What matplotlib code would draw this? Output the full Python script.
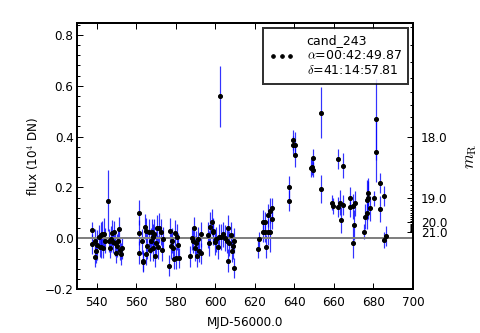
import matplotlib
matplotlib.use('Agg')
import matplotlib.pyplot as plt
from matplotlib.ticker import MultipleLocator, AutoMinorLocator, FixedLocator, FixedFormatter

plt.rcParams['mathtext.fontset'] = 'cm'
plt.rcParams['font.size'] = 12

# light curve of cand_243 (MJD-56000, flux in 1e4 DN)
mjd = [537.7, 537.6, 538.9, 539.3, 539.6, 540.3, 540.9, 541.4, 541.9, 542.3, 542.8, 543.2, 543.7, 544.2,
       545.5, 546.2, 546.7, 547.2, 547.8, 548.4, 548.9, 549.3, 549.6, 550.2, 550.7, 551.3, 551.9, 552.5, 552.8,
       561.4, 561.5, 561.4, 562.7, 563.2, 563.5, 564.4, 564.7, 565.0, 565.6, 566.2, 566.9, 567.2, 567.7,
       568.3, 568.6, 569.1, 569.4, 570.0, 570.6, 571.1, 571.6, 572.3, 572.8, 573.3,
       576.7, 577.0, 577.5, 578.2, 578.7, 579.2, 579.7, 580.0, 580.5, 581.2, 581.7,
       587.2, 588.0, 588.6, 589.2, 589.7, 590.2, 590.6, 591.2, 591.9, 592.6, 592.9,
       596.1, 596.6, 597.3, 598.1, 598.6, 598.8, 599.6, 600.5, 601.5, 601.9, 602.4, 603.0, 604.0, 605.0,
       606.0, 606.2, 606.4, 607.0, 607.9, 608.2, 608.7, 609.2, 609.6,
       621.4, 622.2, 623.9, 624.3, 625.1, 625.3, 625.5, 626.5, 626.8, 627.5, 627.7, 628.5, 628.5,
       637.5, 637.5, 639.2, 639.2, 640.3, 640.3, 648.3, 648.8, 649.3, 649.3, 653.3, 653.3,
       659.2, 659.7, 662.2, 662.2, 663.0, 663.4, 664.4, 664.8, 668.1, 668.3, 669.5, 669.8, 670.3, 670.7,
       675.4, 675.7, 676.6, 676.6, 677.4, 677.4, 678.3, 680.5, 681.3, 681.3, 683.3, 683.3, 685.4, 685.4, 686.4]
flux = [0.033, -0.024, -0.012, -0.075, -0.049, -0.026, 0.005, -0.035, 0.013, -0.033, 0.016, -0.039, 0.018, -0.010,
        0.148, -0.010, -0.039, -0.003, 0.020, -0.015, 0.026, -0.020, -0.059, -0.030, -0.010, 0.035, -0.045, -0.062, -0.040,
        0.100, 0.022, -0.057, -0.013, -0.088, -0.095, 0.045, -0.062, 0.030, -0.030, 0.025, -0.046, -0.010, 0.025,
        -0.040, 0.005, 0.015, -0.072, -0.020, 0.040, -0.035, 0.040, 0.025, -0.045, -0.005,
        -0.108, 0.030, -0.030, -0.010, -0.040, -0.080, 0.020, -0.078, 0.005, -0.028, -0.078,
        -0.072, 0.000, -0.010, 0.040, -0.040, -0.020, -0.072, -0.005, -0.050, -0.060, 0.015,
        0.013, -0.020, 0.045, 0.064, 0.030, 0.025, -0.015, -0.005, -0.035, 0.006, 0.558, 0.005, 0.015, 0.000,
        -0.010, 0.040, -0.088, -0.020, 0.013, -0.050, -0.030, -0.010, -0.118,
        -0.043, -0.004, 0.025, 0.065, 0.025, 0.065, -0.033, 0.091, 0.025, 0.025, 0.108, 0.120, 0.077,
        0.200, 0.148, 0.386, 0.366, 0.368, 0.327, 0.277, 0.280, 0.316, 0.270, 0.494, 0.193,
        0.140, 0.127, 0.311, 0.124, 0.140, 0.072, 0.285, 0.130, 0.160, 0.124, -0.017, 0.125, 0.052, 0.137,
        0.026, 0.085, 0.098, 0.150, 0.157, 0.176, 0.118, 0.157, 0.468, 0.340, 0.216, 0.115, 0.166, -0.007, 0.009]
flux_err = [0.03, 0.04, 0.05, 0.04, 0.05, 0.06, 0.045, 0.04, 0.05, 0.045, 0.05, 0.04, 0.06, 0.05,
            0.12, 0.045, 0.04, 0.05, 0.05, 0.045, 0.04, 0.05, 0.04, 0.045, 0.05, 0.05, 0.04, 0.045, 0.04,
            0.05, 0.05, 0.045, 0.05, 0.04, 0.04, 0.05, 0.045, 0.05, 0.05, 0.05, 0.045, 0.05, 0.05,
            0.05, 0.05, 0.06, 0.04, 0.05, 0.05, 0.045, 0.06, 0.05, 0.045, 0.05,
            0.04, 0.05, 0.05, 0.05, 0.045, 0.04, 0.05, 0.045, 0.05, 0.05, 0.04,
            0.04, 0.045, 0.05, 0.045, 0.05, 0.05, 0.04, 0.05, 0.045, 0.04, 0.05,
            0.05, 0.05, 0.06, 0.05, 0.05, 0.05, 0.05, 0.05, 0.045, 0.05, 0.12, 0.05, 0.05, 0.05,
            0.05, 0.05, 0.045, 0.05, 0.05, 0.045, 0.05, 0.05, 0.04,
            0.035, 0.03, 0.04, 0.045, 0.04, 0.04, 0.045, 0.045, 0.05, 0.08, 0.05, 0.04, 0.04,
            0.045, 0.04, 0.04, 0.035, 0.05, 0.045, 0.035, 0.03, 0.035, 0.03, 0.10, 0.055,
            0.03, 0.03, 0.04, 0.04, 0.05, 0.05, 0.05, 0.04, 0.04, 0.04, 0.06, 0.05, 0.06, 0.05,
            0.03, 0.05, 0.06, 0.08, 0.08, 0.05, 0.05, 0.03, 0.16, 0.12, 0.04, 0.05, 0.04, 0.03, 0.04]

label = 'cand_243\n$\\alpha$=00:42:49.87\n$\\delta$=41:14:57.81'
mag_major = [18.0, 19.0, 20.0, 21.0]
zp = 17.0

def mag2flux(m):
    return 10 ** (-0.4 * (m - zp))

fig = plt.figure(figsize=(480 / 72., 333 / 72.), dpi=72)
ax = fig.add_axes([77 / 480., 1 - 289 / 333., 336 / 480., 266 / 333.])

ax.errorbar(mjd, flux, yerr=flux_err, fmt='none', ecolor='b', elinewidth=1.2, alpha=0.8, zorder=2)
ax.axhline(0, color='gray', lw=2, zorder=2.5)
ax.plot(mjd, flux, 'o', color='k', ms=4, mec='k', label=label, zorder=3)

ax.set_xlim(530, 700)
ax.set_ylim(-0.2, 0.847)
ax.xaxis.set_major_locator(MultipleLocator(20))
ax.yaxis.set_major_locator(MultipleLocator(0.2))
ax.yaxis.set_minor_locator(AutoMinorLocator(5))
ax.tick_params(which='both', direction='in', top=True, right=False)
ax.tick_params(which='major', length=6, width=1)
ax.tick_params(which='minor', length=3, width=1)
ax.tick_params(axis='x', pad=7)
for s in ax.spines.values():
    s.set_linewidth(2)

ax.set_xlabel('MJD-56000.0', labelpad=7)
ax.set_ylabel('flux (10$^4$ DN)')

leg = ax.legend(loc='upper right', numpoints=3, fancybox=False, markerscale=0.9,
                handlelength=2.0, handletextpad=1.0, borderaxespad=0.4, labelspacing=0.2,
                borderpad=0.5, prop={'size': 12.5})
leg.get_frame().set_edgecolor('k')
leg.get_frame().set_linewidth(2)

ax2 = ax.twinx()
ax2.set_ylim(ax.get_ylim())
minor_mags = [17.2 + 0.1 * i for i in range(39)]
ax2.yaxis.set_major_locator(FixedLocator([mag2flux(m) for m in mag_major]))
ax2.yaxis.set_major_formatter(FixedFormatter(['%.1f' % m for m in mag_major]))
ax2.yaxis.set_minor_locator(FixedLocator([mag2flux(m) for m in minor_mags]))
ax2.tick_params(which='both', direction='in', pad=8)
ax2.tick_params(which='major', length=6, width=1)
ax2.tick_params(which='minor', length=3, width=1)
ax2.set_ylabel('$m_{\\rm R}$', fontsize=17, labelpad=13)
for s in ax2.spines.values():
    s.set_linewidth(2)

fig.savefig('out.png', dpi=72)
